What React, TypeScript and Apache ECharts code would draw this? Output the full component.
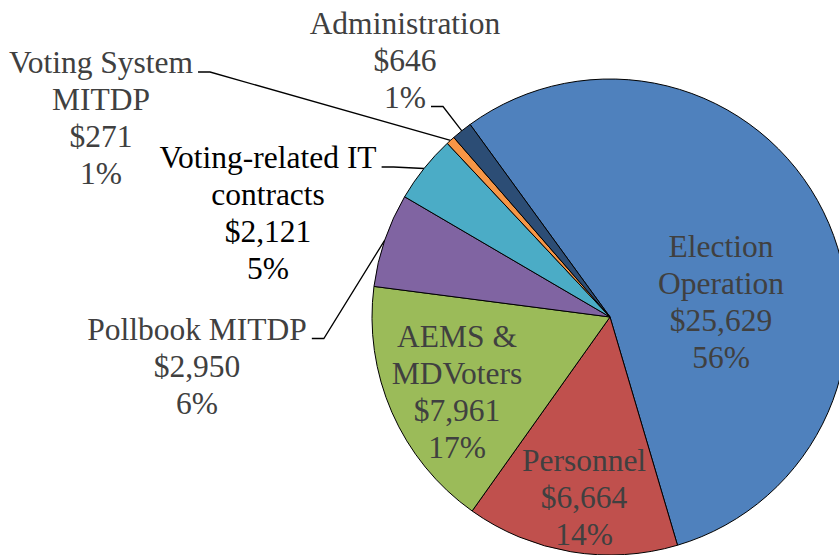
import React, { useEffect, useRef } from "react";
import * as echarts from "echarts";

const categories = [
  "Election\nOperation",
  "Personnel",
  "AEMS &\nMDVoters",
  "Pollbook MITDP",
  "Voting-related IT\ncontracts",
  "Voting System\nMITDP",
  "Administration",
];
const amounts = [25629, 6664, 7961, 2950, 2121, 271, 646];
const amountLabels = ["$25,629", "$6,664", "$7,961", "$2,950", "$2,121", "$271", "$646"];
const percentLabels = ["56%", "14%", "17%", "6%", "5%", "1%", "1%"];

const sliceColors = ["#4F81BD", "#C0504D", "#9BBB59", "#8064A2", "#4BACC6", "#F79646", "#2C4D75"];
const textColors = ["#404040", "#404040", "#404040", "#404040", "#000000", "#404040", "#404040"];

// label layout (block centres), whether label is outside, and which line the leader attaches to
const labelCenters: [number, number][] = [
  [721, 302],
  [584, 497],
  [457, 392],
  [197, 366],
  [268, 213],
  [101, 118],
  [405, 60],
];
const outsideLabel = [false, false, false, true, true, true, true];
const anchorLine = [0, 0, 0, 0, 0, 0, 2];

const FONT_SIZE = 31.5;
const LINE_H = 37;
const FONT_FAMILY = "Liberation Serif";

function labelText(i: number) {
  return `${categories[i]}\n${amountLabels[i]}\n${percentLabels[i]}`;
}

let measureCtx: CanvasRenderingContext2D | null = null;
function measure(t: string) {
  if (!measureCtx) {
    const c = document.createElement("canvas");
    measureCtx = c.getContext("2d");
  }
  if (!measureCtx) return t.length * FONT_SIZE * 0.5;
  measureCtx.font = `${FONT_SIZE}px "${FONT_FAMILY}"`;
  return measureCtx.measureText(t).width;
}

export default function App() {
  const ref = useRef<HTMLDivElement>(null);
  useEffect(() => {
    if (!ref.current) return;
    const chart = echarts.init(ref.current, undefined, { renderer: "svg" });
    const data = categories.map((name, i) => ({
      name,
      value: amounts[i],
      itemStyle: { color: sliceColors[i] },
      label: {
        position: outsideLabel[i] ? "outside" : "inside",
        color: textColors[i],
      },
      labelLine: { show: outsideLabel[i] },
    }));
    chart.setOption({
      animation: false,
      textStyle: { fontFamily: FONT_FAMILY },
      series: [
        {
          type: "pie",
          silent: true,
          center: [610, 317],
          radius: 238,
          startAngle: 126,
          clockwise: true,
          avoidLabelOverlap: false,
          itemStyle: { borderColor: "#000000", borderWidth: 1 },
          label: {
            show: true,
            fontFamily: FONT_FAMILY,
            fontSize: FONT_SIZE,
            lineHeight: LINE_H,
            align: "center",
            formatter: (p: any) => labelText(p.dataIndex),
          },
          labelLine: {
            show: true,
            lineStyle: { color: "#000000", width: 1.3 },
          },
          labelLayout: (params: any) => {
            const i = params.dataIndex;
            const [cx, cy] = labelCenters[i];
            const res: any = { x: cx, y: cy, align: "center", verticalAlign: "middle" };
            if (outsideLabel[i] && params.labelLinePoints) {
              const w = params.labelRect.width;
              const h = params.labelRect.height;
              const top = cy - h / 2;
              const li = anchorLine[i];
              const lines = labelText(i).split("\n");
              const lw = li === 0 ? w : measure(lines[li]);
              const sx = cx + lw / 2 + 5;
              const sy = top + li * LINE_H + 28;
              const edge = params.labelLinePoints[0];
              res.labelLinePoints = [edge, [sx + 12, sy], [sx, sy]];
            }
            return res;
          },
          data,
        },
      ],
    });
    return () => chart.dispose();
  }, []);
  return (
    <div
      ref={ref}
      style={{ position: "absolute", left: 0, top: 0, width: 839, height: 555, background: "#ffffff" }}
    />
  );
}
